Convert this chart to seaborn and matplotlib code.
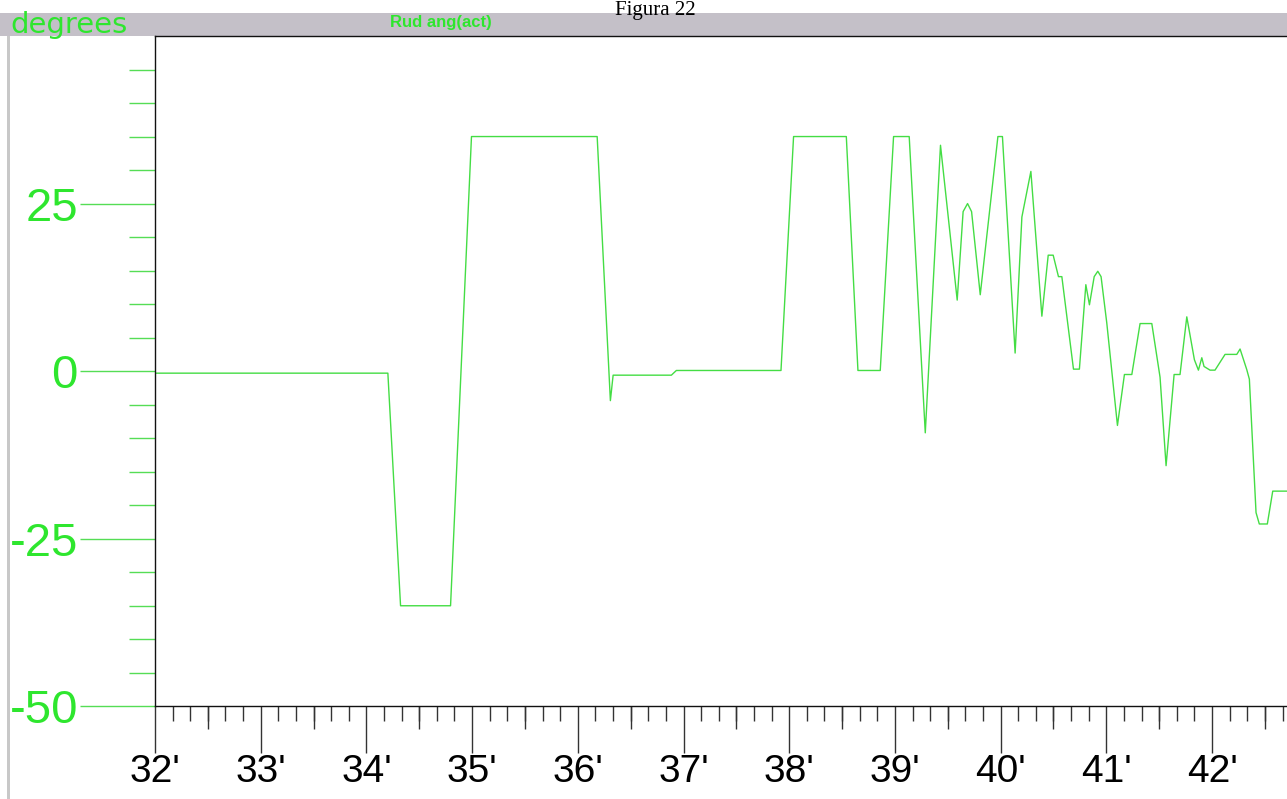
import matplotlib
matplotlib.use("Agg")
import matplotlib.pyplot as plt
import matplotlib.ticker as mticker
from matplotlib.patches import Rectangle
import seaborn as sns
import pandas as pd

# ---------------- data ----------------
minutes = [32.0, 34.203, 34.323, 34.796, 34.994, 36.183, 36.308, 36.334, 36.885, 36.932,
           37.922, 38.041, 38.540, 38.650, 38.861, 38.987, 39.135, 39.287, 39.431, 39.589,
           39.645, 39.687, 39.725, 39.807, 39.974, 40.017, 40.137, 40.201, 40.286, 40.390,
           40.450, 40.497, 40.547, 40.579, 40.689, 40.745, 40.806, 40.840, 40.885, 40.919,
           40.950, 41.004, 41.105, 41.171, 41.241, 41.319, 41.430, 41.508, 41.565, 41.641,
           41.697, 41.761, 41.833, 41.871, 41.903, 41.924, 41.981, 42.028, 42.123, 42.234,
           42.265, 42.328, 42.353, 42.397, 42.416, 42.447, 42.523, 42.574, 42.709]
rudder_deg = [-0.3, -0.3, -35.0, -35.0, 35.0, 35.0, -4.4, -0.6, -0.6, 0.1,
              0.1, 35.0, 35.0, 0.1, 0.1, 35.0, 35.0, -9.2, 33.7, 10.6,
              23.8, 25.0, 23.8, 11.4, 35.0, 35.0, 2.7, 23.0, 29.8, 8.2,
              17.3, 17.3, 14.1, 14.1, 0.3, 0.3, 12.9, 9.9, 14.1, 14.9,
              14.1, 7.2, -8.1, -0.5, -0.5, 7.1, 7.1, -0.9, -14.1, -0.5,
              -0.5, 8.1, 1.7, 0.15, 2.0, 0.7, 0.15, 0.15, 2.5, 2.5,
              3.3, 0.25, -1.2, -15.1, -21.1, -22.8, -22.8, -17.9, -17.9]

x_major = [32, 33, 34, 35, 36, 37, 38, 39, 40, 41, 42]
x_labels = ["32'", "33'", "34'", "35'", "36'", "37'", "38'", "39'", "40'", "41'", "42'"]
y_major = [-50, -25, 0, 25]
y_labels = ["-50", "-25", "0", "25"]

title_text = "Figura 22"
unit_text = "degrees"
series_name = "Rud ang(act)"

# ---------------- style ----------------
sns.set_style("white")
plt.rcParams['font.family'] = ['Liberation Sans', 'DejaVu Sans']

GREEN_TXT = '#2EE62E'
GREEN_TICK = '#55DD55'
GREEN_LINE = '#44DD44'
BAND = '#C4C0C8'

W, H = 1287, 799
fig = plt.figure(figsize=(W / 100, H / 100), dpi=100)
fig.patch.set_facecolor('white')

left_px, right_px, top_px, bottom_px = 155, 1287, 36, 706.3
ax = fig.add_axes([left_px / W, (H - bottom_px) / H,
                   (right_px - left_px) / W, (bottom_px - top_px) / H])
ax.set_facecolor('white')

df = pd.DataFrame({'minute': minutes, 'deg': rudder_deg})
sns.lineplot(data=df, x='minute', y='deg', ax=ax, color=GREEN_LINE,
             linewidth=1.0, estimator=None, sort=False, legend=False)

ax.set_xlim(32, 42.709)
ax.set_ylim(-50, 50)
ax.set_xlabel('')
ax.set_ylabel('')

# spines
for s in ['left', 'top', 'bottom']:
    ax.spines[s].set_visible(True)
    ax.spines[s].set_color('#111111')
    ax.spines[s].set_linewidth(1.0)
ax.spines['right'].set_visible(False)

# y ticks (green)
ax.yaxis.set_major_locator(mticker.FixedLocator(y_major))
ax.yaxis.set_major_formatter(mticker.FixedFormatter(y_labels))
ax.yaxis.set_minor_locator(mticker.FixedLocator([v for v in range(-45, 50, 5) if v % 25 != 0]))
ax.tick_params(axis='y', which='major', direction='out', length=54, width=1.0,
               color=GREEN_TICK, labelcolor=GREEN_TXT, labelsize=34, pad=1.5, left=True)
ax.tick_params(axis='y', which='minor', direction='out', length=18.7, width=1.0,
               color=GREEN_TICK, left=True)

# x ticks (black ruler)
ax.xaxis.set_major_locator(mticker.FixedLocator(x_major))
ax.xaxis.set_major_formatter(mticker.FixedFormatter(x_labels))
ax.xaxis.set_minor_locator(mticker.MultipleLocator(1 / 6))
ax.tick_params(axis='x', which='major', direction='out', length=34, width=1.0,
               color='#333333', labelcolor='black', labelsize=28, pad=0.5, bottom=True)
ax.tick_params(axis='x', which='minor', direction='out', length=10.8, width=1.0,
               color='#333333', bottom=True)

# half-minute ticks of medium length
sec = ax.secondary_xaxis('bottom')
sec.set_xticks([m + 0.5 for m in x_major])
sec.set_xticklabels([])
sec.tick_params(axis='x', direction='out', length=16.6, width=1.0, color='#333333')
sec.spines['bottom'].set_visible(False)

# header band and decorations
fig.add_artist(Rectangle((0, 1 - top_px / H), 1, 23 / H, transform=fig.transFigure,
                         facecolor=BAND, edgecolor='none', zorder=0))
fig.add_artist(Rectangle((7 / W, 0), 3 / W, 1 - top_px / H, transform=fig.transFigure,
                         facecolor='#C8C8C8', edgecolor='none', zorder=0))

fig.text(655 / W, 1 - 0.5 / H, title_text, family=['Liberation Serif', 'DejaVu Serif'],
         fontsize=15, color='black', ha='center', va='top', zorder=5)
fig.text(10 / W, 1 - 33 / H, unit_text, family=['DejaVu Sans'], fontsize=21,
         color=GREEN_TXT, ha='left', va='baseline', zorder=5)
fig.text(441 / W, 1 - 27.5 / H, series_name, fontsize=12, fontweight='bold',
         color=GREEN_TXT, ha='center', va='baseline', zorder=5)

fig.savefig('out.png', dpi=100, facecolor='white')
